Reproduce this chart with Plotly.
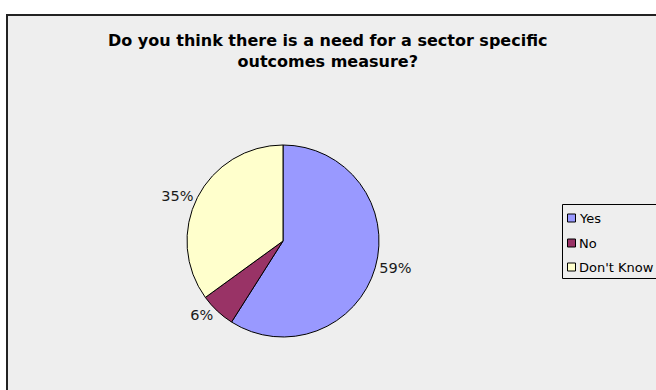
import plotly.graph_objects as go

# Survey responses
categories = ["Yes", "No", "Don't Know"]
shares = [59, 6, 35]
colors = ["#9999FF", "#993366", "#FFFFCC"]
title_lines = ["Do you think there is a need for a sector specific", "outcomes measure?"]

W, H = 656, 390


def px(x):
    return x / W


def py(y):
    return 1 - y / H


fig = go.Figure()

fig.add_trace(go.Pie(
    labels=categories,
    values=shares,
    sort=False,
    direction="clockwise",
    rotation=0,
    marker=dict(colors=colors, line=dict(color="#000000", width=1)),
    texttemplate="%{value}%",
    textposition="outside",
    outsidetextfont=dict(family="DejaVu Sans", size=14.5, color="#1A1A1A"),
    domain=dict(x=[px(187), px(379)], y=[py(337), py(145)]),
    showlegend=False,
    hoverinfo="label+percent",
))

shapes = [
    # chart area frame
    dict(type="rect", xref="paper", yref="paper",
         x0=px(7), x1=px(700), y0=py(430), y1=py(15),
         fillcolor="#EEEEEE", line=dict(color="#222222", width=2), layer="below"),
    # legend box
    dict(type="rect", xref="paper", yref="paper",
         x0=px(562.5), x1=px(700), y0=py(278.5), y1=py(204.5),
         fillcolor="#EEEEEE", line=dict(color="#000000", width=1), layer="below"),
]

annotations = [
    dict(text="<b>" + "<br>".join(title_lines) + "</b>",
         xref="paper", yref="paper", x=0.5, y=py(29), xanchor="center", yanchor="top",
         showarrow=False, align="center",
         font=dict(family="DejaVu Sans", size=16, color="#000000")),
]

row_y = [218, 243, 267]
for name, col, yy in zip(categories, colors, row_y):
    shapes.append(dict(type="rect", xref="paper", yref="paper",
                       x0=px(567.5), x1=px(575.5), y0=py(yy + 4), y1=py(yy - 4),
                       fillcolor=col, line=dict(color="#000000", width=1)))
    annotations.append(dict(text=name, xref="paper", yref="paper",
                            x=px(577), y=py(yy), xanchor="left", yanchor="middle",
                            showarrow=False,
                            font=dict(family="DejaVu Sans", size=13, color="#000000")))

fig.update_layout(
    width=W, height=H,
    margin=dict(l=0, r=0, t=0, b=0),
    paper_bgcolor="#FFFFFF",
    plot_bgcolor="#FFFFFF",
    shapes=shapes,
    annotations=annotations,
)

fig.write_html("out.html")
